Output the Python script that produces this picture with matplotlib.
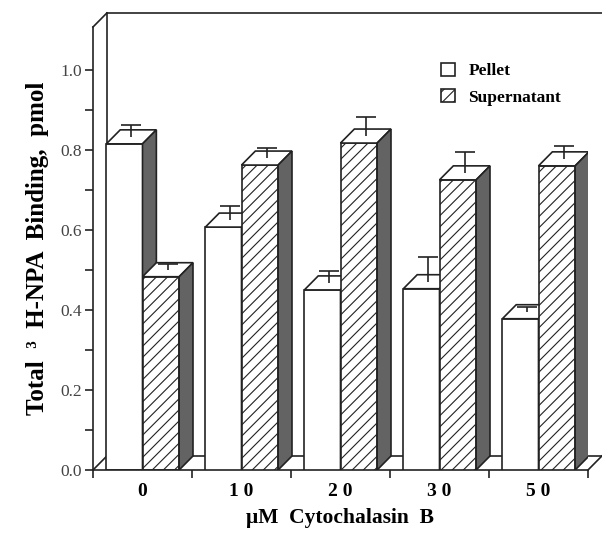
import matplotlib
matplotlib.use("Agg")
import matplotlib.pyplot as plt
from matplotlib.patches import Polygon, Patch
import numpy as np

# dados
doses = ["0", "10", "20", "30", "50"]
pellet = [0.815, 0.607, 0.450, 0.453, 0.378]
pellet_err = [0.030, 0.035, 0.030, 0.062, 0.012]
supernatant = [0.483, 0.762, 0.817, 0.725, 0.760]
supernatant_err = [0.015, 0.025, 0.048, 0.052, 0.033]

plt.rcParams['font.family'] = ['Liberation Serif', 'DejaVu Serif']
plt.rcParams['hatch.linewidth'] = 0.8
plt.rcParams['hatch.color'] = '#222222'

ink = '#222222'
side_color = '#636363'
dx, dy = 0.14, 0.035   # profundidade do efeito 3D
ytop = 1.107

fig = plt.figure(figsize=(6.02, 5.36), dpi=100)
ax = fig.add_axes([93/602, 66/536, 495/602, 443/536])
ax.set_xlim(-0.5, 4.5)
ax.set_ylim(0, ytop)

x = np.arange(len(doses))


def bar3d(x0, x1, h, hatch, z):
    ax.bar(x0, h, width=x1 - x0, align='edge', facecolor='white',
           edgecolor=ink, linewidth=1.2, hatch=hatch, zorder=z)
    top = Polygon([(x0, h), (x1, h), (x1 + dx, h + dy), (x0 + dx, h + dy)],
                  closed=True, facecolor='white', edgecolor=ink, lw=1.2, zorder=z + 0.01)
    side = Polygon([(x1, 0), (x1 + dx, dy), (x1 + dx, h + dy), (x1, h)],
                   closed=True, facecolor=side_color, edgecolor=ink, lw=1.2, zorder=z + 0.01)
    ax.add_patch(top)
    ax.add_patch(side)


def err3d(x0, x1, h, e, z):
    # so a parte de cima da barra de erro
    _, caps, _ = ax.errorbar((x0 + x1) / 2 + dx / 2, h + dy / 2, yerr=[[0], [e]], fmt='none',
                             ecolor=ink, elinewidth=1.2, capsize=7, capthick=1.2, zorder=z + 0.02)
    for c in caps:
        if c.get_ydata()[0] <= h + dy / 2 + 1e-9:
            c.set_visible(False)


for i in x:
    p0, p1 = i - 0.365, i + 0.0
    s0, s1 = i + 0.0, i + 0.37
    bar3d(p0, p1, pellet[i], None, 2 + i)
    err3d(p0, p1, pellet[i], pellet_err[i], 2 + i)
    bar3d(s0, s1, supernatant[i], '///', 2.5 + i)
    err3d(s0, s1, supernatant[i], supernatant_err[i], 2.5 + i)

# parede do fundo e chao
kw = dict(color=ink, lw=1.2, clip_on=False, zorder=1)
ax.plot([-0.5 + dx, 4.5 + dx], [dy, dy], **kw)
ax.plot([-0.5, -0.5 + dx], [0, dy], **kw)
ax.plot([4.5, 4.5 + dx], [0, dy], **kw)
ax.plot([-0.5 + dx, -0.5 + dx], [dy, ytop + dy], **kw)
ax.plot([-0.5, -0.5 + dx], [ytop, ytop + dy], **kw)
ax.plot([-0.5 + dx, 4.5 + dx + 0.05], [ytop + dy, ytop + dy], **kw)

ax.spines['top'].set_visible(False)
ax.spines['right'].set_visible(False)
for s in ['left', 'bottom']:
    ax.spines[s].set_linewidth(1.2)
    ax.spines[s].set_color(ink)

ax.set_yticks(np.arange(0, 1.01, 0.2))
ax.set_yticklabels(['0.0', '0.2', '0.4', '0.6', '0.8', '1.0'])
ax.set_yticks(np.arange(0.1, 1.01, 0.2), minor=True)
ax.tick_params(axis='y', which='both', direction='out', length=6, width=1.2,
               color=ink, labelsize=12.5, labelcolor='#444444', pad=2)

ax.set_xticks(np.arange(-0.5, 4.6, 1))
ax.set_xticklabels([])
ax.set_xticks(x, minor=True)
ax.set_xticklabels([' '.join(d) for d in doses], minor=True, fontsize=14, fontweight='bold')
ax.tick_params(axis='x', which='minor', length=0, pad=9)
ax.tick_params(axis='x', which='major', direction='out', length=6, width=1.2, color=ink)

ax.set_xlabel('μM  Cytochalasin  B', fontsize=15.5, fontweight='bold', labelpad=6)
ax.set_ylabel('Total  ³  H-NPA  Binding,  pmol', fontsize=18, fontweight='bold', labelpad=8)

handles = [Patch(facecolor='white', edgecolor=ink, lw=1.2, label='Pellet'),
           Patch(facecolor='white', edgecolor=ink, lw=1.2, hatch='///', label='Supernatant')]
ax.legend(handles=handles, loc='upper left', bbox_to_anchor=(425/602, 1 - 47/536),
          bbox_transform=fig.transFigure, frameon=False, handlelength=0.8,
          handleheight=0.8, handletextpad=0.8, labelspacing=0.55,
          prop={'weight': 'bold', 'size': 12.5})

fig.savefig('out.png', dpi=100)
